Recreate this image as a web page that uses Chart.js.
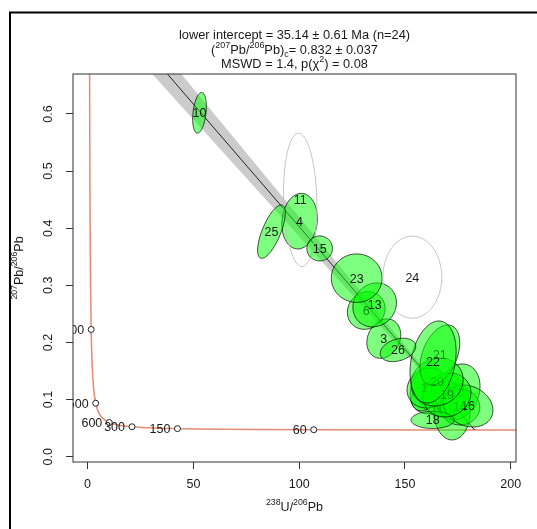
<!DOCTYPE html>
<html>
<head>
<meta charset="utf-8">
<script src="https://cdn.jsdelivr.net/npm/chart.js@4.4.1/dist/chart.umd.min.js"></script>
<style>
  body { margin: 0; background: #fff; }
  canvas { display: block; }
</style>
</head>
<body>
<canvas id="tw" width="537" height="529"></canvas>
<script>
// Concordia curve (Tera-Wasserburg), points along the curve, old -> young
const concX = [0.853, 0.990, 1.163, 1.387, 1.687, 2.111, 2.749, 3.817, 4.888, 5.960, 7.568, 10.25, 15.62, 20.99, 31.73, 42.48, 63.97, 106.9, 214.4];
const concY = [0.8457, 0.597, 0.4251, 0.3060, 0.2227, 0.1643, 0.1230, 0.0936, 0.0802, 0.0725, 0.0658, 0.0599, 0.0547, 0.0524, 0.0501, 0.0491, 0.0480, 0.0472, 0.0467];

// age ticks on the concordia (Ma)
const ageLabels = ['3000', '1500', '600', '300', '150', '60'];
const ageX = [1.687, 3.817, 10.25, 20.99, 42.48, 106.9];
const ageY = [0.2227, 0.0936, 0.0599, 0.0524, 0.0491, 0.0472];

// discordia line + error envelope
const discX = [0, 182.95];
const discY = [0.832, 0.0467];
const bandUpper = [0.869, 0.0470];
const bandLower = [0.795, 0.0464];

// aliquots (error ellipses): centre, half-widths, correlation
const ids    = [1, 2, 3, 4, 5, 6, 7, 8, 9, 10, 11, 12, 13, 14, 15, 16, 17, 18, 19, 20, 21, 22, 23, 24, 25, 26];
const ellX   = [172.3, 169.0, 140.0, 100.2, 167.5, 131.7, 162.5, 172.3, 160.0, 52.9, 100.5, 175.1, 135.7, 176.0, 109.7, 179.8, 160.9, 163.1, 169.9, 165.2, 166.5, 163.3, 127.2, 153.5, 86.9, 146.7];
const ellY   = [0.0993, 0.1133, 0.2067, 0.4124, 0.1028, 0.256, 0.1028, 0.0783, 0.1203, 0.602, 0.4496, 0.1133, 0.2657, 0.0870, 0.3646, 0.0888, 0.1203, 0.0643, 0.1081, 0.1308, 0.1781, 0.1658, 0.3126, 0.3143, 0.394, 0.1869];
const ellSX  = [8.0, 8.5, 8.0, 8.4, 10.0, 8.9, 9.5, 8.5, 7.5, 3.24, 7.9, 10.4, 10.3, 9.4, 6.05, 11.8, 9.9, 10.2, 11.3, 12.3, 9.4, 10.9, 12.0, 13.9, 6.54, 8.4];
const ellSY  = [0.030, 0.032, 0.0345, 0.0487, 0.033, 0.033, 0.028, 0.049, 0.040, 0.0356, 0.1168, 0.049, 0.0385, 0.0315, 0.0219, 0.0368, 0.035, 0.0149, 0.0385, 0.042, 0.0525, 0.0718, 0.0424, 0.0718, 0.0467, 0.0205];
const ellRho = [0.2, 0.1, 0.2, 0.1, 0.0, 0.1, 0.1, 0.0, 0.3, 0.3, -0.1, 0.2, 0.1, 0.0, 0.0, -0.2, 0.1, 0.0, 0.1, 0.1, 0.4, 0.25, 0.0, 0.0, 0.7, 0.3];
const rejected = [11, 24];

const xTicks = [0, 50, 100, 150, 200];
const yTicks = [0, 0.1, 0.2, 0.3, 0.4, 0.5, 0.6];

const FONT = '"Liberation Sans", Arial, sans-serif';
const INK = '#1a1a1a';

// draw text with superscripts / subscripts, centred on (cx, cy)
function richText(ctx, parts, cx, cy, size) {
  let w = 0;
  parts.forEach(([t, m]) => {
    ctx.font = (m ? size * 0.7 : size) + 'px ' + FONT;
    w += ctx.measureText(t).width;
  });
  let px = cx - w / 2;
  ctx.textAlign = 'left';
  ctx.textBaseline = 'middle';
  parts.forEach(([t, m]) => {
    ctx.font = (m ? size * 0.7 : size) + 'px ' + FONT;
    const dy = m === 1 ? -size * 0.4 : (m === -1 ? size * 0.28 : 0);
    ctx.fillText(t, px, cy + dy);
    px += ctx.measureText(t).width;
  });
}

const pts = (xs, ys) => xs.map((v, i) => ({ x: v, y: ys[i] }));

const ageTextPlugin = {
  id: 'ageText',
  afterDatasetsDraw(chart) {
    const { ctx, chartArea: a, scales: { x, y } } = chart;
    ctx.save();
    ctx.beginPath();
    ctx.rect(a.left, a.top, a.width, a.height);
    ctx.clip();
    ctx.fillStyle = INK;
    ctx.font = '12.5px ' + FONT;
    ctx.textAlign = 'right';
    ctx.textBaseline = 'middle';
    ageLabels.forEach((lab, i) => {
      ctx.fillText(lab, x.getPixelForValue(ageX[i]) - 7, y.getPixelForValue(ageY[i]) + 1);
    });

    // error ellipses, each followed by its label
    ids.forEach((id, i) => {
      const r = ellRho[i], q = Math.sqrt(1 - r * r);
      ctx.beginPath();
      for (let k = 0; k <= 90; k++) {
        const t = k / 90 * 2 * Math.PI;
        const px = x.getPixelForValue(ellX[i] + ellSX[i] * Math.cos(t));
        const py = y.getPixelForValue(ellY[i] + ellSY[i] * (r * Math.cos(t) + q * Math.sin(t)));
        if (k === 0) ctx.moveTo(px, py); else ctx.lineTo(px, py);
      }
      ctx.closePath();
      const out = rejected.includes(id);
      if (!out) {
        ctx.fillStyle = 'rgba(0,255,0,0.5)';
        ctx.fill();
      }
      ctx.strokeStyle = out ? '#c4c4c4' : 'rgba(0,0,0,0.7)';
      ctx.lineWidth = 1;
      ctx.stroke();
      ctx.fillStyle = INK;
      ctx.font = '12.5px ' + FONT;
      ctx.textAlign = 'center';
      ctx.textBaseline = 'middle';
      ctx.fillText(String(id), x.getPixelForValue(ellX[i]), y.getPixelForValue(ellY[i]) + 1);
    });
    ctx.restore();
  }
};

const framePlugin = {
  id: 'frame',
  afterDraw(chart) {
    const { ctx, chartArea: a, scales: { x, y } } = chart;
    ctx.save();
    // plot box
    ctx.strokeStyle = '#333';
    ctx.lineWidth = 1;
    ctx.strokeRect(a.left, a.top, a.width, a.height);

    // tick labels
    ctx.fillStyle = INK;
    ctx.font = '12.5px ' + FONT;
    ctx.textAlign = 'center';
    ctx.textBaseline = 'middle';
    xTicks.forEach(v => ctx.fillText(String(v), x.getPixelForValue(v), 485));
    yTicks.forEach(v => {
      ctx.save();
      ctx.translate(49, y.getPixelForValue(v));
      ctx.rotate(-Math.PI / 2);
      ctx.fillText(v.toFixed(1), 0, 0);
      ctx.restore();
    });

    // axis titles
    richText(ctx, [['238', 1], ['U/', 0], ['206', 1], ['Pb', 0]], (a.left + a.right) / 2, 508, 12.5);
    ctx.save();
    ctx.translate(20, (a.top + a.bottom) / 2);
    ctx.rotate(-Math.PI / 2);
    richText(ctx, [['207', 1], ['Pb/', 0], ['206', 1], ['Pb', 0]], 0, 0, 12.5);
    ctx.restore();

    // title
    const cx = (a.left + a.right) / 2;
    richText(ctx, [['lower intercept = 35.14 \u00b1 0.61 Ma (n=24)', 0]], cx, 35.5, 12.8);
    richText(ctx, [['(', 0], ['207', 1], ['Pb/', 0], ['206', 1], ['Pb)', 0], ['c', -1], ['= 0.832 \u00b1 0.037', 0]], cx, 50.5, 12.8);
    richText(ctx, [['MSWD = 1.4, p(\u03c7', 0], ['2', 1], [') = 0.08', 0]], cx, 64.5, 12.8);

    // outer frame (left and top edges)
    ctx.strokeStyle = '#000';
    ctx.lineWidth = 2;
    ctx.beginPath();
    ctx.moveTo(10, 529);
    ctx.lineTo(10, 12.5);
    ctx.lineTo(537, 12.5);
    ctx.stroke();
    ctx.restore();
  }
};

new Chart(document.getElementById('tw'), {
  type: 'scatter',
  data: {
    datasets: [
      {
        type: 'line', order: 5, data: pts(discX, bandUpper),
        borderWidth: 0, pointRadius: 0, fill: '+1', backgroundColor: 'rgba(190,190,190,0.8)'
      },
      {
        type: 'line', order: 5, data: pts(discX, bandLower),
        borderWidth: 0, pointRadius: 0, fill: false
      },
      {
        type: 'line', order: 4, data: pts(concX, concY),
        borderColor: '#E58B72', borderWidth: 1.5, pointRadius: 0,
        cubicInterpolationMode: 'monotone', fill: false
      },
      {
        type: 'line', order: 3, data: pts(discX, discY),
        borderColor: '#222', borderWidth: 1, pointRadius: 0, fill: false
      },
      {
        type: 'scatter', order: 1, data: pts(ageX, ageY),
        pointRadius: 3, pointBackgroundColor: '#fff', pointBorderColor: '#222', pointBorderWidth: 1
      }
    ]
  },
  options: {
    responsive: false,
    animation: false,
    devicePixelRatio: 1,
    layout: { padding: { left: 0, top: 74, right: 21, bottom: 0 } },
    plugins: { legend: { display: false }, tooltip: { enabled: false } },
    scales: {
      x: {
        type: 'linear', min: -6.9, max: 202.5,
        afterBuildTicks: s => { s.ticks = xTicks.map(v => ({ value: v })); },
        afterFit: s => { s.height = 67; },
        ticks: { display: false },
        grid: { drawOnChartArea: false, drawTicks: true, tickLength: 7, color: '#333' },
        border: { display: false }
      },
      y: {
        type: 'linear', min: -0.0093, max: 0.670,
        afterBuildTicks: s => { s.ticks = yTicks.map(v => ({ value: v })); },
        afterFit: s => { s.width = 73; },
        ticks: { display: false },
        grid: { drawOnChartArea: false, drawTicks: true, tickLength: 7, color: '#333' },
        border: { display: false }
      }
    }
  },
  plugins: [ageTextPlugin, framePlugin]
});
</script>
</body>
</html>
